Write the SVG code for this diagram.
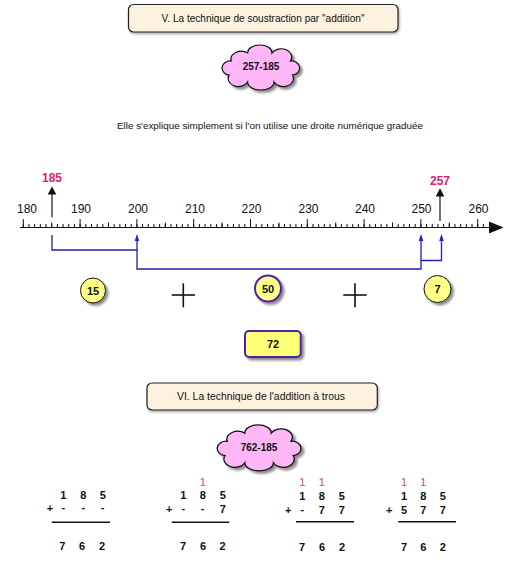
<svg xmlns="http://www.w3.org/2000/svg" width="519" height="568" viewBox="0 0 519 568">
<style>
text{font-family:"Liberation Sans","DejaVu Sans",sans-serif;fill:#111}
.title{fill:#fdf1df;stroke:#222;stroke-width:1.2}
.tt{font-size:10px;text-anchor:middle}
.cloud{fill:#ffb6f6;stroke:#111;stroke-width:1.2}
.ct{font-size:10px;font-weight:bold;text-anchor:middle}
.lab{font-size:12px;text-anchor:middle}
.pink{fill:#e8186e;font-weight:bold;font-size:12px;text-anchor:middle}
.blue{fill:none;stroke:#2020aa;stroke-width:1.3}
.bh{fill:#2020dd}
.circ{fill:#ffff88;stroke:#111;stroke-width:1}
.circp{fill:#ffff88;stroke:#4d22a6;stroke-width:2}
.num{font-size:11px;font-weight:bold;text-anchor:middle}
.plus{stroke:#111;stroke-width:1.6}
.d{font-size:11px;text-anchor:middle;font-weight:bold}
.c{font-size:11px;text-anchor:middle;fill:#e0407a}
.bar{stroke:#111;stroke-width:1.6}
</style>
<defs>
<filter id="sh" x="-30%" y="-30%" width="160%" height="160%">
<feDropShadow dx="2.5" dy="2.5" stdDeviation="1.2" flood-color="#000" flood-opacity="0.45"/>
</filter>
<filter id="sh2" x="-10%" y="-30%" width="120%" height="160%">
<feDropShadow dx="1" dy="1.5" stdDeviation="0.8" flood-color="#000" flood-opacity="0.35"/>
</filter>
<path id="cloudp" d="M12,14 A10,8 0 0 1 28,6 A12,8 0 0 1 52,6 A10,8 0 0 1 70,14 A8,7 0 0 1 72,28 A10,8 0 0 1 54,35 A13,8 0 0 1 28,35 A10,8 0 0 1 10,28 A8,7 0 0 1 12,14 Z"/>
</defs>
<rect width="519" height="568" fill="#fff"/>

<g id="title1">
<rect class="title" x="128.5" y="4.5" width="269.5" height="27.5" rx="5" filter="url(#sh2)"/>
<text class="tt" x="263" y="22" textLength="203" lengthAdjust="spacingAndGlyphs">V. La technique de soustraction par "addition"</text>
</g>

<g id="cloud1">
<use href="#cloudp" class="cloud" transform="translate(219,47) scale(1.02,1)" filter="url(#sh)"/>
<text class="ct" x="261" y="70">257-185</text>
</g>

<g id="intro">
<text x="270" y="128.5" font-size="9.5" text-anchor="middle" textLength="306" lengthAdjust="spacingAndGlyphs">Elle s'explique simplement si l'on utilise une droite numérique graduée</text>
</g>

<g id="numberline">
<line x1="20" y1="227.5" x2="491" y2="227.5" stroke="#111" stroke-width="1.2"/>
<polygon points="489,221.5 503.5,227.5 489,233.5" fill="#111"/>
<line x1="22.8" y1="225.75" x2="484" y2="225.75" stroke="#111" stroke-width="3.5" stroke-dasharray="1 4.68"/>
<line x1="51.2" y1="225" x2="484" y2="225" stroke="#111" stroke-width="5" stroke-dasharray="1 55.8"/>
<line x1="22.8" y1="223.25" x2="484" y2="223.25" stroke="#111" stroke-width="8.5" stroke-dasharray="1 55.8"/>
<text class="lab" x="27" y="212.5">180</text>
<text class="lab" x="81" y="212.5">190</text>
<text class="lab" x="138" y="212.5">200</text>
<text class="lab" x="195" y="212.5">210</text>
<text class="lab" x="251.5" y="212.5">220</text>
<text class="lab" x="308.5" y="212.5">230</text>
<text class="lab" x="365" y="212.5">240</text>
<text class="lab" x="421.5" y="212.5">250</text>
<text class="lab" x="478.5" y="212.5">260</text>
</g>

<g id="mark185">
<line x1="52" y1="194" x2="52" y2="217.3" stroke="#111" stroke-width="1.2"/>
<polygon points="47.7,194.5 52,186.5 56.3,194.5" fill="#111"/>
<text class="pink" x="52" y="182">185</text>
</g>

<g id="mark257">
<line x1="440" y1="196" x2="440" y2="221" stroke="#111" stroke-width="1.2"/>
<polygon points="435.7,196.5 440,188.3 444.3,196.5" fill="#111"/>
<text class="pink" x="440" y="185">257</text>
</g>

<g id="connectors">
<path class="blue" d="M52,235 V250 H137 V240"/>
<polygon class="bh" points="134.7,241 137,234 139.3,241"/>
<path class="blue" d="M137,250 V269 H421 V240"/>
<polygon class="bh" points="418.7,241 421,234 423.3,241"/>
<path class="blue" d="M421,260.5 H441.5 V240"/>
<polygon class="bh" points="439.2,241 441.5,234 443.8,241"/>
</g>

<g id="n15">
<circle class="circ" cx="93" cy="290.5" r="12.5" filter="url(#sh)"/>
<text class="num" x="93" y="294.5">15</text>
</g>
<g id="plus1">
<line class="plus" x1="171.7" y1="295" x2="195" y2="295"/>
<line class="plus" x1="183.3" y1="283.3" x2="183.3" y2="307.3"/>
</g>
<g id="n50">
<circle class="circp" cx="268" cy="288.5" r="13" filter="url(#sh)"/>
<text class="num" x="268" y="292.5">50</text>
</g>
<g id="plus2">
<line class="plus" x1="343.3" y1="295" x2="366.7" y2="295"/>
<line class="plus" x1="355" y1="283.3" x2="355" y2="307.3"/>
</g>
<g id="n7">
<circle class="circ" cx="437.5" cy="289" r="13.5" filter="url(#sh)"/>
<text class="num" x="437.5" y="293">7</text>
</g>

<g id="result72">
<rect x="245" y="331" width="55.7" height="26" rx="4" fill="#ffff77" stroke="#4d22a6" stroke-width="2" filter="url(#sh)"/>
<text class="num" x="273" y="348" font-size="12">72</text>
</g>

<g id="title2">
<rect class="title" x="147" y="383" width="230.3" height="27" rx="5" filter="url(#sh2)"/>
<text class="tt" x="261" y="400" textLength="168" lengthAdjust="spacingAndGlyphs">VI. La technique de l'addition à trous</text>
</g>

<g id="cloud2">
<use href="#cloudp" class="cloud" transform="translate(214,427) scale(1.1,1.02)" filter="url(#sh)"/>
<text class="ct" x="259" y="451">762-185</text>
</g>

<g id="add1">
<text class="d" x="63.3" y="499">1</text><text class="d" x="83.3" y="499">8</text><text class="d" x="102.7" y="499">5</text>
<text class="d" x="50" y="512" font-size="8">+</text>
<text class="d" x="63.3" y="511" font-size="9">-</text><text class="d" x="83.3" y="511" font-size="9">-</text><text class="d" x="102.7" y="511" font-size="9">-</text>
<line class="bar" x1="51.7" y1="522.3" x2="110" y2="522.3"/>
<text class="d" x="62.3" y="550">7</text><text class="d" x="82" y="550">6</text><text class="d" x="102" y="550">2</text>
</g>

<g id="add2">
<text class="c" x="202.7" y="485.5">1</text>
<text class="d" x="183.3" y="499">1</text><text class="d" x="202.7" y="499">8</text><text class="d" x="222.7" y="499">5</text>
<text class="d" x="169.3" y="513" font-size="8">+</text>
<text class="d" x="183.3" y="512" font-size="9">-</text><text class="d" x="202.7" y="512" font-size="9">-</text><text class="d" x="222.7" y="513">7</text>
<line class="bar" x1="171.7" y1="522.3" x2="229.3" y2="522.3"/>
<text class="d" x="183" y="550">7</text><text class="d" x="203" y="550">6</text><text class="d" x="222.5" y="550">2</text>
</g>

<g id="add3">
<text class="c" x="302.3" y="485.5">1</text><text class="c" x="321.7" y="485.5">1</text>
<text class="d" x="302.3" y="500">1</text><text class="d" x="321.7" y="500">8</text><text class="d" x="341.7" y="500">5</text>
<text class="d" x="288.3" y="514" font-size="8">+</text>
<text class="d" x="302.3" y="513" font-size="9">-</text><text class="d" x="321.7" y="514">7</text><text class="d" x="341.7" y="514">7</text>
<line class="bar" x1="296" y1="521.7" x2="354" y2="521.7"/>
<text class="d" x="302" y="550.5">7</text><text class="d" x="322" y="550.5">6</text><text class="d" x="342" y="550.5">2</text>
</g>

<g id="add4">
<text class="c" x="404" y="485.5">1</text><text class="c" x="423.3" y="485.5">1</text>
<text class="d" x="404" y="500">1</text><text class="d" x="423.3" y="500">8</text><text class="d" x="442.7" y="500">5</text>
<text class="d" x="389.3" y="514" font-size="8">+</text>
<text class="d" x="404" y="514">5</text><text class="d" x="423.3" y="514">7</text><text class="d" x="442.7" y="514">7</text>
<line class="bar" x1="398.3" y1="521.7" x2="456" y2="521.7"/>
<text class="d" x="404" y="550.5">7</text><text class="d" x="423.3" y="550.5">6</text><text class="d" x="442.7" y="550.5">2</text>
</g>
</svg>
